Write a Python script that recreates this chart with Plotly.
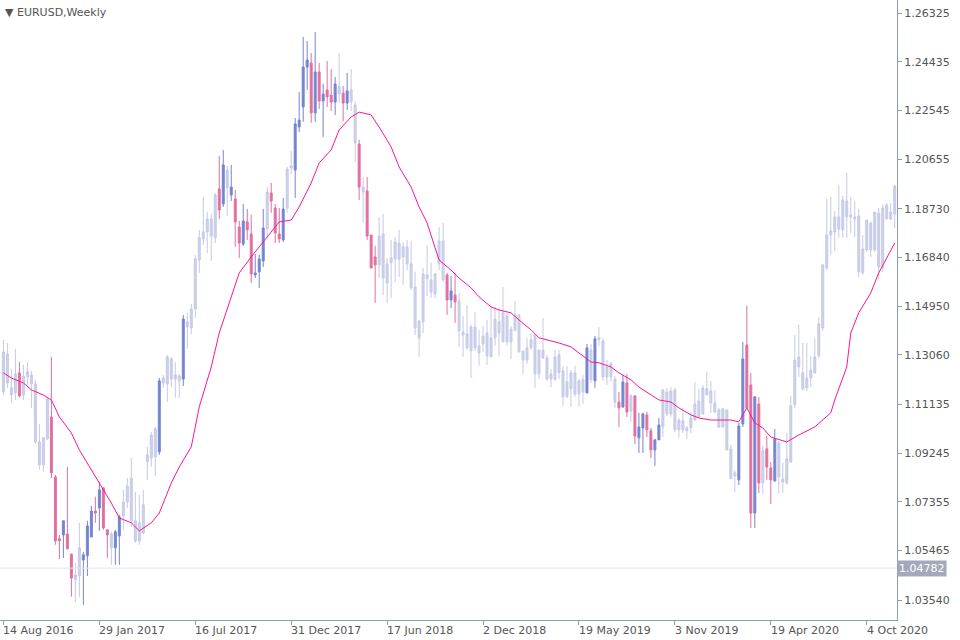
import pandas as pd
import plotly.graph_objects as go

# weekly EURUSD bars, week 0 = 14 Aug 2016
opens = [1.1162,1.1197,1.1150,1.1158,1.1236,1.1150,1.1220,1.1193,1.0968,1.0879,1.0879,1.0980,1.1065,1.0832,1.0592,1.0607,1.0611,1.0533,1.0433,1.0448,
1.0510,1.0526,1.0599,1.0700,1.0712,1.0790,1.0627,1.0557,1.0557,1.0603,1.0681,1.0735,1.0662,1.0584,1.0584,1.0615,1.0891,1.0906,1.0910,1.0929,
1.1197,1.1193,1.1212,1.1212,1.1205,1.1212,1.1414,1.1410,1.1484,1.1674,1.1756,1.1783,1.1767,1.1760,1.1950,1.1891,1.1954,1.1926,1.1911,1.1802,
1.1736,1.1822,1.1775,1.1616,1.1628,1.1670,1.1795,1.1934,1.1876,1.1775,1.1752,1.1876,1.2031,1.2023,1.2190,1.2268,1.2423,1.2439,1.2245,1.2404,
1.2291,1.2334,1.2314,1.2287,1.2318,1.2322,1.2283,1.2287,1.2128,1.2124,1.1938,1.1942,1.1771,1.1686,1.1655,1.1604,1.1585,1.1663,1.1678,1.1678,
1.1686,1.1659,1.1566,1.1410,1.1372,1.1434,1.1601,1.1550,1.1542,1.1659,1.1597,1.1616,1.1519,1.1538,1.1399,1.1383,1.1333,1.1321,1.1333,1.1313,
1.1348,1.1302,1.1298,1.1372,1.1391,1.1356,1.1356,1.1356,1.1403,1.1317,1.1286,1.1286,1.1333,1.1232,1.1232,1.1294,1.1212,1.1212,1.1212,1.1236,
1.1143,1.1143,1.1174,1.1154,1.1154,1.1162,1.1158,1.1209,1.1205,1.1364,1.1220,1.1220,1.1220,1.1123,1.1123,1.1104,1.1197,1.1088,1.1147,1.0984,
1.1022,1.1073,1.1011,1.0937,1.0976,1.1026,1.1077,1.1077,1.1015,1.1015,1.1015,1.1011,1.1022,1.1053,1.1065,1.1077,1.1150,1.1119,1.1084,1.1026,
1.1026,1.0937,1.0825,1.0836,1.0821,1.1038,1.1344,1.1189,1.0692,1.1115,1.0809,1.0941,1.0867,1.0817,1.0832,1.0813,1.0809,1.0890,1.1112,1.1259,
1.1174,1.1178,1.1216,1.1236,1.1302,1.1410,1.1643,1.1771,1.1783,1.1794,1.1791,1.1841,1.1841,1.1833,1.1628,1.1624,1.1713,1.1713,1.1713,1.1647,
1.1643,1.1833,1.1833,1.1853]
highs = [1.1364,1.1352,1.1251,1.1329,1.1278,1.1267,1.1278,1.1243,1.1209,1.1038,1.0988,1.1139,1.1298,1.0840,1.0607,1.0662,1.0871,1.0533,1.0499,1.0654,
1.0541,1.0662,1.0720,1.0755,1.0813,1.0790,1.0627,1.0619,1.0627,1.0685,1.0782,1.0828,1.0906,1.0774,1.0763,1.0782,1.0949,1.1007,1.1026,1.1216,
1.1228,1.1306,1.1298,1.1278,1.1232,1.1461,1.1469,1.1504,1.1694,1.1791,1.1919,1.1860,1.1853,1.1934,1.2078,1.2101,1.2039,1.2043,1.1946,1.1826,
1.1891,1.1872,1.1849,1.1697,1.1694,1.1872,1.1957,1.1973,1.1891,1.1876,1.1915,1.2035,1.2097,1.2225,1.2326,1.2539,1.2524,1.2477,1.2559,1.2439,
1.2357,1.2446,1.2415,1.2384,1.2477,1.2349,1.2400,1.2415,1.2291,1.2140,1.1996,1.1996,1.1771,1.1729,1.1841,1.1853,1.1682,1.1752,1.1763,1.1791,
1.1744,1.1752,1.1748,1.1628,1.1441,1.1643,1.1732,1.1663,1.1624,1.1802,1.1818,1.1624,1.1612,1.1624,1.1546,1.1457,1.1500,1.1422,1.1472,1.1403,
1.1418,1.1441,1.1492,1.1492,1.1488,1.1569,1.1469,1.1418,1.1515,1.1461,1.1321,1.1372,1.1391,1.1383,1.1325,1.1449,1.1306,1.1251,1.1325,1.1325,
1.1263,1.1263,1.1247,1.1263,1.1212,1.1228,1.1348,1.1348,1.1379,1.1414,1.1372,1.1286,1.1278,1.1224,1.1162,1.1228,1.1232,1.1154,1.1147,1.1081,
1.1081,1.1085,1.1022,1.0980,1.1061,1.1170,1.1178,1.1181,1.1178,1.1061,1.1100,1.1030,1.1085,1.1201,1.1174,1.1189,1.1240,1.1205,1.1170,1.1100,
1.1100,1.1092,1.0957,1.0859,1.1042,1.1356,1.1496,1.1236,1.1146,1.1143,1.0953,1.0991,1.0890,1.1018,1.0972,1.0887,1.1003,1.1147,1.1383,1.1422,
1.1352,1.1352,1.1302,1.1372,1.1453,1.1659,1.1911,1.1919,1.1864,1.1965,1.1923,1.2012,1.1919,1.1903,1.1872,1.1771,1.1829,1.1822,1.1860,1.1876,
1.1891,1.1895,1.1895,1.1965]
lows = [1.1150,1.1178,1.1119,1.1131,1.1140,1.1131,1.1189,1.1100,1.0960,1.0860,1.0852,1.0976,1.0828,1.0569,1.0514,1.0518,1.0553,1.0367,1.0347,1.0366,
1.0336,1.0448,1.0599,1.0654,1.0623,1.0627,1.0518,1.0491,1.0491,1.0491,1.0627,1.0712,1.0638,1.0576,1.0569,1.0611,1.0821,1.0871,1.0836,1.0918,
1.1178,1.1123,1.1181,1.1139,1.1139,1.1185,1.1329,1.1387,1.1449,1.1624,1.1732,1.1701,1.1670,1.1740,1.1833,1.1880,1.1845,1.1903,1.1725,1.1682,
1.1728,1.1752,1.1585,1.1604,1.1566,1.1647,1.1760,1.1857,1.1740,1.1740,1.1744,1.1857,1.2008,1.1915,1.2171,1.2210,1.2334,1.2206,1.2210,1.2260,
1.2151,1.2268,1.2252,1.2237,1.2283,1.2213,1.2256,1.2252,1.2054,1.1907,1.1818,1.1752,1.1643,1.1507,1.1604,1.1538,1.1507,1.1527,1.1589,1.1608,
1.1577,1.1635,1.1558,1.1383,1.1298,1.1391,1.1534,1.1527,1.1527,1.1635,1.1589,1.1461,1.1488,1.1430,1.1337,1.1298,1.1325,1.1216,1.1321,1.1263,
1.1317,1.1267,1.1298,1.1341,1.1302,1.1356,1.1341,1.1290,1.1395,1.1317,1.1232,1.1271,1.1325,1.1178,1.1212,1.1290,1.1205,1.1181,1.1205,1.1212,
1.1108,1.1139,1.1104,1.1143,1.1104,1.1115,1.1158,1.1197,1.1178,1.1341,1.1205,1.1189,1.1201,1.1100,1.1026,1.1100,1.1065,1.1046,1.0960,1.0925,
1.0925,1.0987,1.0906,1.0875,1.0976,1.0987,1.1069,1.1065,1.1007,1.0984,1.1003,1.0980,1.1003,1.1050,1.1061,1.1073,1.1150,1.1081,1.1081,1.1022,
1.1026,1.0937,1.0825,1.0774,1.0801,1.1026,1.1100,1.0634,1.0634,1.0770,1.0766,1.0821,1.0727,1.0813,1.0766,1.0770,1.0801,1.0887,1.1100,1.1220,
1.1166,1.1166,1.1181,1.1236,1.1294,1.1399,1.1635,1.1694,1.1709,1.1759,1.1760,1.1760,1.1779,1.1763,1.1608,1.1616,1.1705,1.1686,1.1705,1.1600,
1.1628,1.1833,1.1829,1.1798]
closes = [1.1317,1.1309,1.1178,1.1232,1.1147,1.1224,1.1240,1.1228,1.1193,1.0968,1.0984,1.1135,1.0848,1.0584,1.0584,1.0662,1.0553,1.0440,1.0452,1.0557,
1.0530,1.0642,1.0700,1.0692,1.0782,1.0634,1.0607,1.0611,1.0619,1.0677,1.0735,1.0797,1.0828,1.0662,1.0654,1.0724,1.0918,1.0995,1.1019,1.1205,
1.1216,1.1298,1.1290,1.1228,1.1224,1.1445,1.1434,1.1484,1.1678,1.1760,1.1783,1.1833,1.1833,1.1926,1.1868,1.2043,1.2023,1.1957,1.1822,1.1740,
1.1825,1.1791,1.1620,1.1624,1.1678,1.1798,1.1938,1.1903,1.1779,1.1756,1.1872,1.2027,1.2039,1.2202,1.2217,1.2423,1.2450,1.2245,1.2404,1.2291,
1.2318,1.2307,1.2287,1.2357,1.2349,1.2283,1.2330,1.2334,1.2276,1.1957,1.1957,1.1767,1.1643,1.1655,1.1767,1.1775,1.1659,1.1682,1.1744,1.1740,
1.1725,1.1725,1.1659,1.1569,1.1437,1.1620,1.1616,1.1597,1.1620,1.1748,1.1748,1.1519,1.1554,1.1511,1.1515,1.1395,1.1387,1.1414,1.1414,1.1341,
1.1379,1.1391,1.1372,1.1445,1.1434,1.1469,1.1457,1.1406,1.1461,1.1461,1.1321,1.1333,1.1364,1.1383,1.1325,1.1325,1.1294,1.1232,1.1298,1.1306,
1.1244,1.1201,1.1236,1.1236,1.1205,1.1209,1.1333,1.1325,1.1368,1.1372,1.1360,1.1259,1.1271,1.1212,1.1100,1.1201,1.1084,1.1147,1.0991,1.1026,
1.1077,1.1015,1.0937,1.0976,1.1034,1.1170,1.1162,1.1166,1.1170,1.1053,1.1050,1.1022,1.1061,1.1115,1.1127,1.1178,1.1174,1.1166,1.1119,1.1092,
1.1096,1.1092,1.0941,1.0848,1.1030,1.1290,1.1100,1.0692,1.1143,1.0809,1.0933,1.0871,1.0821,1.0980,1.0964,1.0825,1.0902,1.1108,1.1286,1.1298,
1.1236,1.1216,1.1247,1.1298,1.1426,1.1655,1.1771,1.1787,1.1841,1.1841,1.1907,1.1903,1.1849,1.1841,1.1845,1.1717,1.1829,1.1818,1.1860,1.1856,
1.1876,1.1887,1.1860,1.1961]
# bar highlight: n = plain, b = blue (up), p = pink (down)
marks = list("nnnn" "p" + "n" * 7 + "pppbpp" "nn" "bbb" "p" "b" "pp" "n" "bb" + "n" * 9 + "b" + "n" * 5 + "b" + "n" * 8
             + "pbnbppbppbbb" "n" "ppp" "b" "nn" "bbbb" "pbpbppb" "npbnn" "pnppp" + "n" * 17 + "pbp" + "n" * 32
             + "bnb" + "n" * 5 + "pbpnpbbppbb" + "n" * 19 + "bbppbpnppb" + "n" * 30)

# moving average (week index, value)
ma_week = [0,2,5,7,10,12,14,17,19,22,24,27,29,32,34,37,39,42,44,47,49,52,54,57,59,62,64,67,69,72,74,77,79,82,84,87,89,92,94,97,99,102,
           104,106,109,112,114,117,119,122,124,127,129,132,134,137,139,142,144,147,149,152,154,157,159,162,164,167,169,172,174,177,179,182,
           184,186,188,190,192,196,199,203,207,208,211,212,214,217,219,223]
ma_vals = [1.1236,1.1216,1.1197,1.1170,1.1150,1.1131,1.1065,1.1003,1.0937,1.0859,1.0809,1.0731,1.0673,1.0654,1.0623,1.0654,1.0692,1.0809,1.0871,
           1.0949,1.1104,1.1259,1.1391,1.1531,1.1624,1.1686,1.1725,1.1779,1.1822,1.1829,1.1880,1.1973,1.2051,1.2101,1.2179,1.2229,1.2248,1.2237,
           1.2190,1.2113,1.2035,1.1957,1.1880,1.1818,1.1674,1.1635,1.1604,1.1566,1.1531,1.1492,1.1480,1.1469,1.1441,1.1403,1.1372,1.1360,1.1352,
           1.1337,1.1313,1.1278,1.1275,1.1259,1.1236,1.1209,1.1181,1.1150,1.1131,1.1123,1.1100,1.1073,1.1061,1.1053,1.1053,1.1053,1.1046,1.1100,
           1.1042,1.1022,1.0987,1.0968,1.0995,1.1026,1.1081,1.1131,1.1259,1.1391,1.1469,1.1546,1.1624,1.1740]

price_ticks = [1.26325,1.24435,1.22545,1.20655,1.18730,1.16840,1.14950,1.13060,1.11135,1.09245,1.07355,1.05465,1.03540]
date_ticks = ["2016-08-14","2017-01-29","2017-07-16","2017-12-31","2018-06-17","2018-12-02","2019-05-19","2019-11-03","2020-04-19","2020-10-04"]
date_text = ["14 Aug 2016","29 Jan 2017","16 Jul 2017","31 Dec 2017","17 Jun 2018","2 Dec 2018","19 May 2019","3 Nov 2019","19 Apr 2020","4 Oct 2020"]
last_price = 1.04782

dates = pd.date_range("2016-08-14", periods=len(closes), freq="7D")
df = pd.DataFrame(dict(d=dates, o=opens, h=highs, l=lows, c=closes, m=marks))

styles = {"n": ("#cbd1f2", "#c6cae2"), "b": ("#7585cf", "#7585cf"), "p": ("#e070a0", "#e070a0")}
font_main = dict(color="#555555", size=11, family="Tahoma, DejaVu Sans")

fig = go.Figure()
for key, (fill, line) in styles.items():
    sub = df[df.m == key]
    fig.add_trace(go.Candlestick(
        x=sub.d, open=sub.o, high=sub.h, low=sub.l, close=sub.c,
        increasing=dict(fillcolor=fill, line=dict(color=line, width=1)),
        decreasing=dict(fillcolor=fill, line=dict(color=line, width=1)),
        whiskerwidth=0, hoverinfo="skip", showlegend=False))

fig.add_trace(go.Scatter(x=dates[ma_week], y=ma_vals, mode="lines",
                         line=dict(color="#ff1493", width=1), showlegend=False, hoverinfo="skip"))

fig.add_hline(y=last_price, line=dict(color="#e4e4f0", width=1))

fig.add_annotation(text=f"{last_price:.5f}", xref="paper", yref="y", x=1.0, y=last_price,
                   xanchor="left", yanchor="middle", showarrow=False, bgcolor="#a3a9bb",
                   font=dict(color="white", size=11, family="Tahoma, DejaVu Sans"), borderpad=1)
fig.add_annotation(text="▼ EURUSD,Weekly", xref="paper", yref="paper", x=0.003, y=0.993,
                   xanchor="left", yanchor="top", showarrow=False, font=font_main)
for d, t in zip(date_ticks, date_text):
    fig.add_annotation(text=t, xref="x", yref="paper", x=d, y=0, xanchor="left", yanchor="top",
                       xshift=-2, yshift=-2, showarrow=False, font=font_main)

fig.update_layout(
    width=960, height=640, margin=dict(l=0, r=63, t=0, b=20),
    paper_bgcolor="white", plot_bgcolor="white", font=font_main,
    xaxis=dict(type="date", rangeslider=dict(visible=False),
               range=[dates[0] - pd.Timedelta(days=6), dates[-1] + pd.Timedelta(days=4)],
               tickvals=date_ticks, ticktext=[""] * len(date_ticks), ticks="outside", ticklen=4,
               tickcolor="#8f9bb3", showgrid=False, zeroline=False,
               showline=True, linecolor="#8f9bb3", mirror=True),
    yaxis=dict(side="right", range=[1.0277, 1.2683], tickvals=price_ticks, automargin=False,
               tickformat=".5f", ticks="outside", ticklen=4, tickcolor="#8f9bb3",
               showgrid=False, zeroline=False, showline=True, linecolor="#8f9bb3", mirror=True),
)

fig.write_html("out.html", config={"displayModeBar": False},
               post_script="document.body.style.margin='0';")
